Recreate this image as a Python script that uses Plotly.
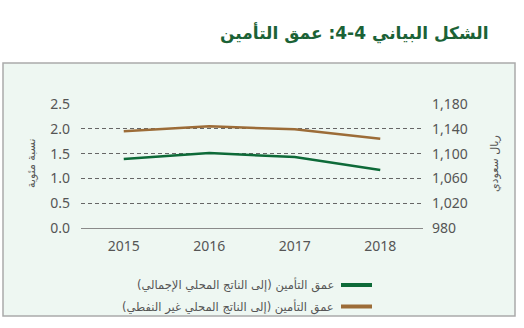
import plotly.graph_objects as go

years = ["2015", "2016", "2017", "2018"]
depth_total = [1.39, 1.51, 1.43, 1.17]
depth_nonoil = [1.95, 2.05, 1.99, 1.80]
left_ticks = [0.0, 0.5, 1.0, 1.5, 2.0, 2.5]
right_ticks = [980, 1020, 1060, 1100, 1140, 1180]

title_text = "الشكل البياني 4-4: عمق التأمين"
name_total = "عمق التأمين (إلى الناتج المحلي الإجمالي)"
name_nonoil = "عمق التأمين (إلى الناتج المحلي غير النفطي)"
ytitle_left = "نسبة مئوية"
ytitle_right = "ريال سعودي"

GREEN = "#0d6a38"
BROWN = "#9c6c38"
TXT = "#555555"
FONT = "DejaVu Sans"
NUMFONT = "Noto Sans"

# plot area in pixels
L, R, T, B = 81, 423, 104, 228
W, H = 524, 328

def px(x):
    return (x - L) / (R - L)

def py(y):
    return (B - y) / (B - T)

fig = go.Figure()
fig.add_trace(go.Scatter(x=years, y=depth_total, mode="lines", name=name_total,
                         line=dict(color=GREEN, width=2.5), showlegend=False))
fig.add_trace(go.Scatter(x=years, y=depth_nonoil, mode="lines", name=name_nonoil,
                         line=dict(color=BROWN, width=2.5), showlegend=False))
# empty trace so the secondary (SAR) axis is drawn
fig.add_trace(go.Scatter(x=years, y=[None] * len(years), mode="lines", yaxis="y2",
                         showlegend=False, hoverinfo="skip"))

fig.update_layout(
    width=W, height=H,
    margin=dict(l=L, r=W - R, t=T, b=H - B, pad=0),
    paper_bgcolor="white",
    plot_bgcolor="rgba(0,0,0,0)",
    font=dict(family=FONT, color=TXT, size=13),
    showlegend=False,
    xaxis=dict(type="category", range=[-0.5, 3.5], showgrid=False, showline=True,
               linecolor="#8a8a8a", linewidth=1.2, ticks="", zeroline=False,
               tickfont=dict(size=14, color=TXT, family=NUMFONT), ticklabelstandoff=5),
    yaxis=dict(range=[0, 2.5], tickvals=left_ticks, tickformat=".1f",
               showgrid=True, gridcolor="#666666", griddash="4px,3px", gridwidth=1,
               zeroline=False, showline=False, ticks="",
               tickfont=dict(size=14, color=TXT, family=NUMFONT), ticklabelstandoff=10),
    yaxis2=dict(range=[980, 1180], tickvals=right_ticks, tickformat=",d",
                overlaying="y", side="right", anchor="x", showgrid=False,
                zeroline=False, showline=False, ticks="",
                tickfont=dict(size=14, color=TXT, family=NUMFONT), ticklabelstandoff=8),
)

shapes = [
    dict(type="rect", xref="paper", yref="paper", layer="below",
         x0=px(3), x1=px(515), y0=py(316), y1=py(63),
         fillcolor="#eef7f2", line=dict(color="#aaaaaa", width=1.5)),
    dict(type="line", xref="paper", yref="paper", x0=px(341), x1=px(372),
         y0=py(285), y1=py(285), line=dict(color=GREEN, width=4)),
    dict(type="line", xref="paper", yref="paper", x0=px(341), x1=px(372),
         y0=py(306.5), y1=py(306.5), line=dict(color=BROWN, width=4)),
]
fig.update_layout(shapes=shapes)

annotations = [
    dict(text=title_text, xref="paper", yref="paper", x=px(490), y=py(33),
         xanchor="right", yanchor="middle", showarrow=False,
         font=dict(size=17, color="#1b6236", family=FONT, weight="bold")),
    dict(text=name_total, xref="paper", yref="paper", x=px(336), y=py(285),
         xanchor="right", yanchor="middle", showarrow=False,
         font=dict(size=11.5, color=TXT, family=FONT)),
    dict(text=name_nonoil, xref="paper", yref="paper", x=px(336), y=py(306.5),
         xanchor="right", yanchor="middle", showarrow=False,
         font=dict(size=11.5, color=TXT, family=FONT)),
    dict(text=ytitle_left, xref="paper", yref="paper", x=px(31), y=py(164),
         xanchor="center", yanchor="middle", textangle=-90, showarrow=False,
         font=dict(size=11, color=TXT, family=FONT)),
    dict(text=ytitle_right, xref="paper", yref="paper", x=px(494), y=py(163),
         xanchor="center", yanchor="middle", textangle=-90, showarrow=False,
         font=dict(size=11, color=TXT, family=FONT)),
]
fig.update_layout(annotations=annotations)

fig.write_html("out.html")
